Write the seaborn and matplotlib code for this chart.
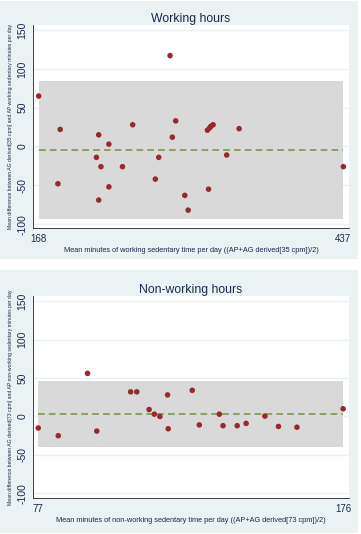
import numpy as np
import pandas as pd
import matplotlib
matplotlib.use("Agg")
import matplotlib.pyplot as plt
from matplotlib.patches import Rectangle
import seaborn as sns

# Working hours: mean (x) vs difference (y)
work_mean = [168, 187, 221, 251, 284, 289, 286, 317, 319, 320, 322, 345,
             230, 219, 223, 242, 274, 185, 230, 221, 271, 297, 300, 318, 334, 437]
work_diff = [65, 22, 15, 28, 117, 33, 12, 21, 24, 26, 28, 23,
             3, -14, -26, -26, -14, -48, -52, -69, -42, -63, -82, -55, -11, -26]
work_bias = -5
work_loa = (-93, 84)
work_xticks = [168, 437]

# Non-working hours
nonwork_mean = [93, 107, 109, 119, 127, 77, 83.5, 96, 113, 114.7, 116.5, 119.2,
                129.3, 135.8, 137, 141.6, 144.5, 150.6, 155, 161, 176]
nonwork_diff = [56, 32, 32, 28, 34, -15, -25, -19, 9, 3, 0, -16,
                -11, 3, -12, -12, -9, 0.5, -13, -14, 10]
nonwork_bias = 3
nonwork_loa = (-40, 46)
nonwork_xticks = [77, 176]

yticks = [-100, -50, 0, 50, 100, 150]

panels = [
    dict(title="Working hours", x=work_mean, y=work_diff, bias=work_bias, loa=work_loa,
         xticks=work_xticks, xlim=(163, 442), ylim=(-105, 156.5),
         xlabel="Mean minutes of working sedentary time per day ((AP+AG derived[35 cpm])/2)",
         ylabel="Mean difference between AG derived[35 cpm] and AP working sedentary minutes per day"),
    dict(title="Non-working hours", x=nonwork_mean, y=nonwork_diff, bias=nonwork_bias, loa=nonwork_loa,
         xticks=nonwork_xticks, xlim=(75.3, 177.9), ylim=(-106, 156.6),
         xlabel="Mean minutes of non-working sedentary time per day ((AP+AG derived[73 cpm])/2)",
         ylabel="Mean difference between AG derived[73 cpm] and AP non-working sedentary minutes per day"),
]

sns.set_style("white")
plt.rcParams["font.family"] = ["Liberation Sans", "DejaVu Sans"]

W, H = 361, 534
fig = plt.figure(figsize=(W / 100, H / 100), dpi=100)
fig.patch.set_facecolor("white")

bg = "#eaf2f3"
navy = "#1a2a4a"
# panel regions in pixels: (top, bottom) and axes (top, bottom)
regions = [(1, 259), (270, 533)]
axes_px = [(25, 228), (296, 498)]

for p, (rt, rb), (at, ab) in zip(panels, regions, axes_px):
    fig.add_artist(Rectangle((0, 1 - rb / H), 358 / W, (rb - rt) / H,
                             transform=fig.transFigure, facecolor=bg, edgecolor="none", zorder=0))
    ax = fig.add_axes([33 / W, 1 - ab / H, (349 - 33) / W, (ab - at) / H])
    ax.set_facecolor("white")
    ax.set_xlim(*p["xlim"])
    ax.set_ylim(*p["ylim"])
    for yv in yticks:
        ax.axhline(yv, color=bg, lw=1.0, zorder=0)
    ax.fill_between([min(p["x"]), max(p["x"])], p["loa"][0], p["loa"][1],
                    color="#d9d9d9", lw=0, zorder=1)
    ax.plot([min(p["x"]), max(p["x"])], [p["bias"], p["bias"]], color="#7a9a48",
            lw=1.2, ls=(0, (4, 2.5)), zorder=2)
    df = pd.DataFrame({"x": p["x"], "y": p["y"]})
    sns.scatterplot(data=df, x="x", y="y", ax=ax, color="#962a2e", s=16,
                    edgecolor="none", zorder=3)
    ax.set_xticks(p["xticks"])
    ax.set_yticks(yticks)
    ax.set_yticklabels([str(v) for v in yticks], rotation=90, va="center")
    ax.tick_params(axis="y", labelsize=7.5, colors=navy, length=3, width=0.6, pad=1)
    ax.tick_params(axis="x", labelsize=7, colors=navy, length=3, width=0.6, pad=1.5)
    for side in ["top", "right"]:
        ax.spines[side].set_visible(False)
    for side in ["left", "bottom"]:
        ax.spines[side].set_color("#222222")
        ax.spines[side].set_linewidth(0.6)
    ax.set_xlabel(p["xlabel"], fontsize=5.3, color=navy, labelpad=2)
    ax.set_ylabel(p["ylabel"], fontsize=3.7, color=navy, labelpad=3)
    ax.set_title(p["title"], fontsize=8.8, color=navy, pad=2)

fig.savefig("out.png", dpi=100)
